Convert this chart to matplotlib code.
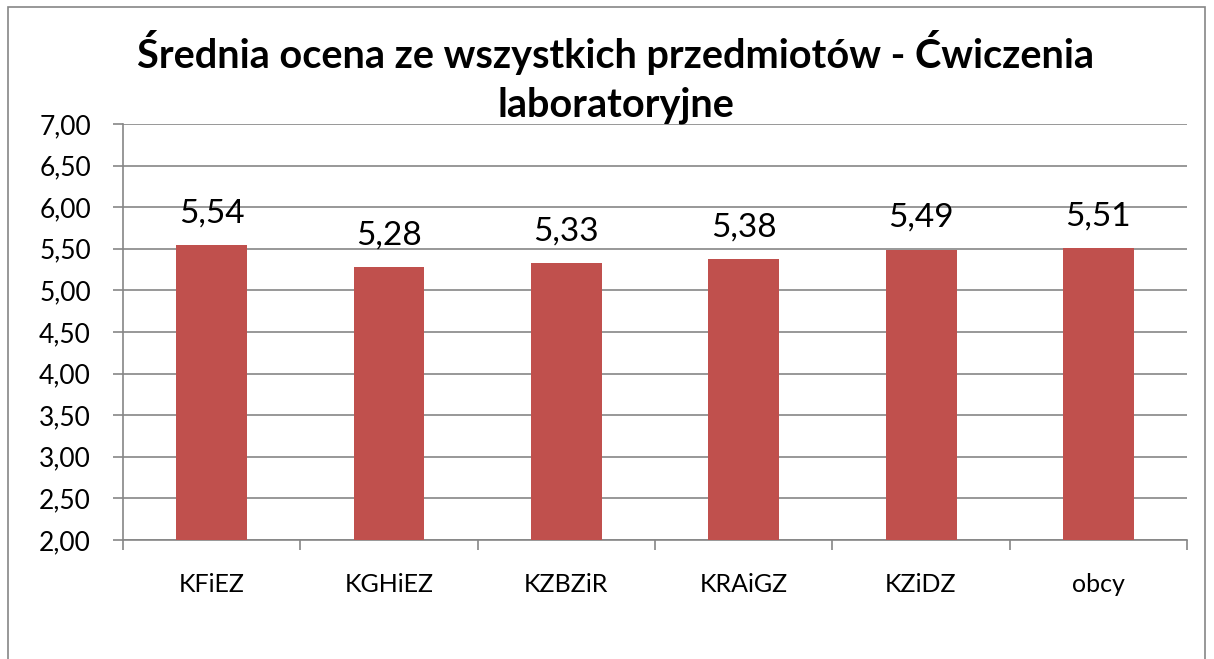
import matplotlib.pyplot as plt
from matplotlib.patches import Rectangle

# dane
kategorie = ['KFiEZ', 'KGHiEZ', 'KZBZiR', 'KRAiGZ', 'KZiDZ', 'obcy']
srednie = [5.54, 5.28, 5.33, 5.38, 5.49, 5.51]
y_ticki = [2.0, 2.5, 3.0, 3.5, 4.0, 4.5, 5.0, 5.5, 6.0, 6.5, 7.0]
tytul = 'Średnia ocena ze wszystkich przedmiotów - Ćwiczenia\nlaboratoryjne'

plt.rcParams['font.family'] = ['Lato', 'DejaVu Sans']
szary = '#868686'
kolor = '#c0504d'

fig = plt.figure(figsize=(12.14, 6.59), dpi=100)
ax = fig.add_axes([0.1013, 0.1806, 0.8765, 0.6312])

# ramka wokół całego wykresu
fig.patches.append(Rectangle((8 / 1214, -0.01), 1197 / 1214, 1 - 7 / 659 + 0.01,
                             transform=fig.transFigure, fill=False,
                             edgecolor=szary, linewidth=1.2))

x = list(range(len(kategorie)))
ax.bar(x, [s - 2 for s in srednie], bottom=2, width=0.4, color=kolor, zorder=3)

for xi, s in zip(x, srednie):
    ax.text(xi, s + 0.2, f'{s:.2f}'.replace('.', ','), ha='center', va='bottom',
            fontsize=24)

ax.set_ylim(2, 7)
ax.set_xlim(-0.5, len(kategorie) - 0.5)
ax.set_yticks(y_ticki)
ax.set_yticklabels([f'{v:.2f}'.replace('.', ',') for v in y_ticki], fontsize=19)
ax.yaxis.grid(True, color=szary, linewidth=1.2, zorder=0)

ax.set_xticks(x)
ax.set_xticklabels(kategorie, fontsize=18)
ax.set_xticks([i - 0.5 for i in range(len(kategorie) + 1)], minor=True)
ax.tick_params(axis='x', which='major', length=0, pad=24)
ax.tick_params(axis='x', which='minor', length=7, color=szary, width=1.2)
ax.tick_params(axis='y', length=7, color=szary, width=1.2, pad=16)

for side in ['top', 'right']:
    ax.spines[side].set_visible(False)
for side in ['left', 'bottom']:
    ax.spines[side].set_color(szary)
    ax.spines[side].set_linewidth(1.2)

fig.text(0.507, 0.955, tytul, ha='center', va='top', fontsize=28.5,
         fontweight='bold', linespacing=1.4)

fig.savefig('out.png', dpi=100)
